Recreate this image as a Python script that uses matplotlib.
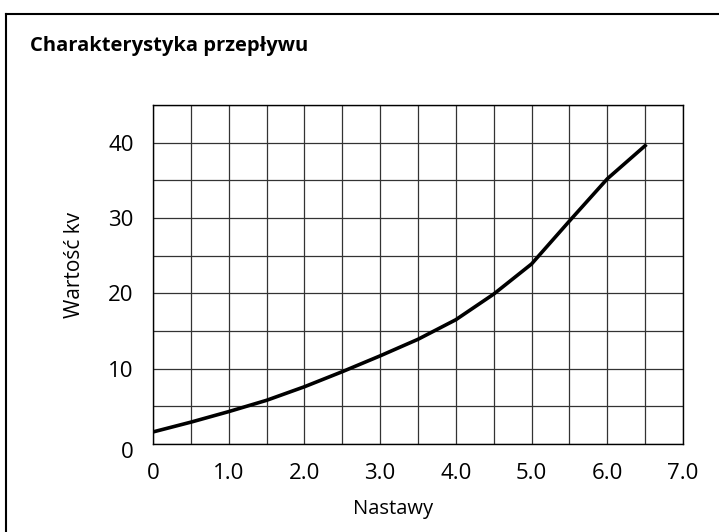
import matplotlib
matplotlib.use("Agg")
import matplotlib.pyplot as plt
import matplotlib.transforms as mtransforms
from matplotlib.lines import Line2D

plt.rcParams['font.family'] = ['Open Sans', 'DejaVu Sans']

# data
nastawy = [0, 0.5, 1.0, 1.5, 2.0, 2.5, 3.0, 3.5, 4.0, 4.5, 5.0, 5.5, 6.0, 6.5]
kv = [1.6, 2.9, 4.3, 5.8, 7.6, 9.6, 11.7, 13.9, 16.5, 19.9, 23.9, 29.6, 35.2, 39.6]

x_ticks = [0, 1, 2, 3, 4, 5, 6, 7]
x_labels = ['0', '1.0', '2.0', '3.0', '4.0', '5.0', '6.0', '7.0']
y_ticks = [0, 10, 20, 30, 40]
y_labels = ['0', '10', '20', '30', '40']

fig = plt.figure(figsize=(7.19, 5.32), dpi=100)
ax = fig.add_axes([153 / 719, 88 / 532, 530 / 719, 339 / 532])

ax.plot(nastawy, kv, color='black', lw=2.6, solid_joinstyle='round', zorder=3)

ax.set_xlim(0, 7)
ax.set_ylim(0, 45)
ax.set_xticks(x_ticks)
ax.set_xticklabels(x_labels)
ax.set_xticks([i * 0.5 for i in range(15)], minor=True)
ax.set_yticks(y_ticks)
ax.set_yticklabels(y_labels)
ax.set_yticks([i * 5 for i in range(10)], minor=True)
ax.tick_params(which='both', length=0, labelsize=16)
ax.tick_params(axis='x', pad=14)
ax.tick_params(axis='y', pad=14)
ax.grid(which='both', color='#333333', lw=0.9)
ax.set_axisbelow(True)
for s in ax.spines.values():
    s.set_color('black')
    s.set_linewidth(1.0)

# the "0" on the y axis sits a bit below the axis line
lbl0 = ax.get_yticklabels()[0]
lbl0.set_transform(lbl0.get_transform() + mtransforms.ScaledTranslation(0, -4 / 72, fig.dpi_scale_trans))

ax.set_xlabel('Nastawy', fontsize=14.5)
ax.xaxis.set_label_coords((393 - 153) / 530, -55 / 339)
ax.set_ylabel('Wartość kv', fontsize=15)
ax.yaxis.set_label_coords(-68 / 530, (444 - 265) / 339)

fig.text(30 / 719, 1 - 46 / 532, 'Charakterystyka przepływu', fontsize=14.5,
         fontweight='bold', va='center', ha='left')

# frame (only top and left edges are visible in the crop)
fig.add_artist(Line2D([6 / 719, 6 / 719], [0, 1 - 14 / 532], color='black', lw=1.5))
fig.add_artist(Line2D([6 / 719, 1], [1 - 14 / 532, 1 - 14 / 532], color='black', lw=1.5))

fig.savefig('out.png', dpi=100)
